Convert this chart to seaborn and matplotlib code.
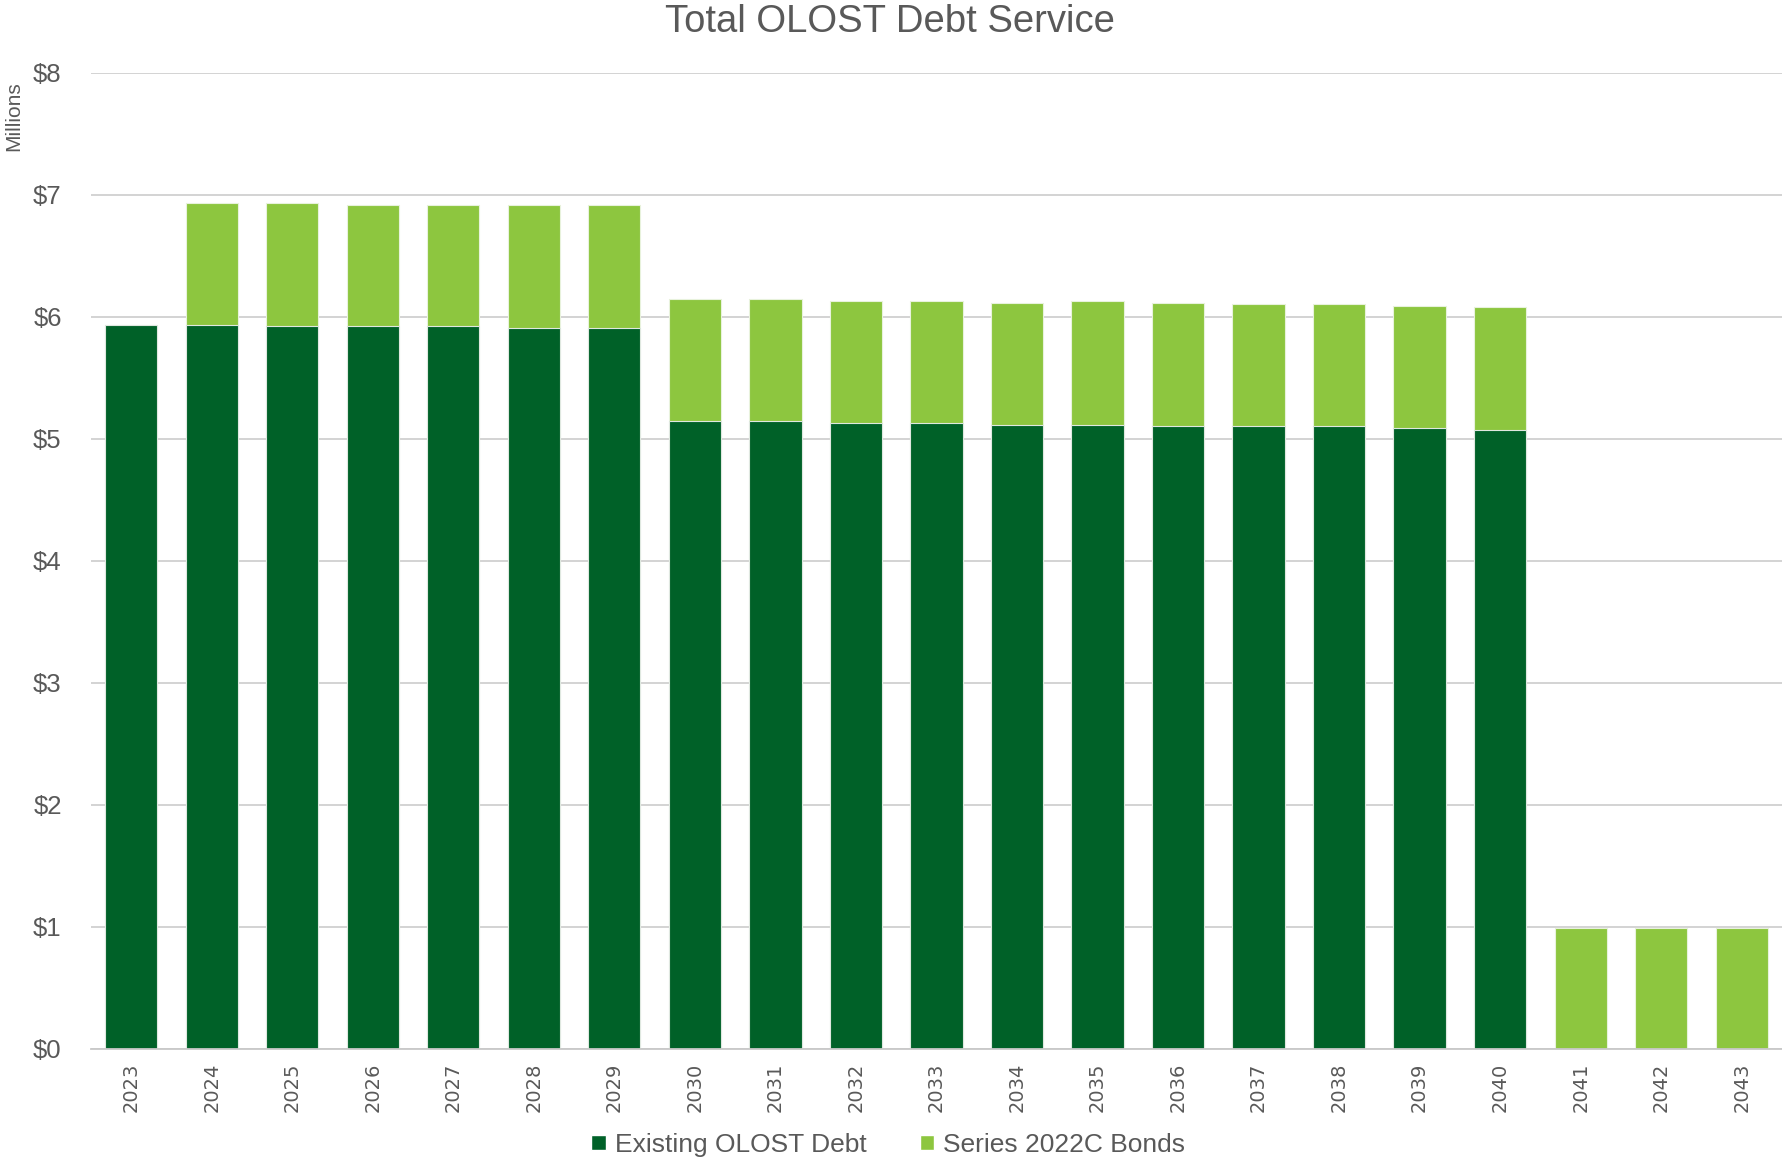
import pandas as pd
import numpy as np
import seaborn as sns
import matplotlib.pyplot as plt
from matplotlib.patches import Patch

years = [str(y) for y in range(2023, 2044)]
existing = [5.937, 5.937, 5.924, 5.924, 5.924, 5.910, 5.910,
            5.145, 5.145, 5.128, 5.128, 5.118, 5.118, 5.104, 5.104,
            5.104, 5.087, 5.076, 0.0, 0.0, 0.0]
series_2022c = [0.0, 0.995, 1.008, 0.995, 0.995, 1.009, 1.009,
                1.000, 1.000, 1.002, 1.002, 1.000, 1.012, 1.014, 1.003,
                1.003, 1.006, 1.004, 0.995, 0.995, 0.995]

dark = '#006128'
light = '#8dc63f'
grey = '#595959'

df = pd.DataFrame({'year': years, 'existing': existing, 'series': series_2022c})
df['total'] = df['existing'] + df['series']

sns.set_style('white')
plt.rcParams['font.family'] = ['Liberation Sans', 'DejaVu Sans']

fig = plt.figure(figsize=(17.82, 11.64), dpi=100)
ax = fig.add_axes([0.051, 0.0988, 0.949, 0.8385])

# stacked: total first, existing drawn over it
sns.barplot(data=df, x='year', y='total', color=light, saturation=1, width=0.65,
            edgecolor='#e8f2dc', linewidth=0.8, ax=ax)
sns.barplot(data=df, x='year', y='existing', color=dark, saturation=1, width=0.65,
            edgecolor='#dfe8e0', linewidth=0.8, ax=ax)

ax.set_ylim(0, 8)
ax.set_xlim(-0.5, len(years) - 0.5)
ax.set_yticks(range(0, 9))
ax.set_yticklabels(['$%d' % v for v in range(0, 9)], fontsize=18.5, color=grey)
ax.tick_params(axis='y', length=0, pad=21)
ax.yaxis.grid(True, color='#d0d0d0', linewidth=1.3)
ax.set_axisbelow(True)

ax.set_xticks(range(len(years)))
ax.set_xticklabels(years, rotation=90, fontsize=14, color=grey,
                   family='DejaVu Sans')
ax.set_xticks(np.arange(-0.5, len(years), 1), minor=True)
ax.tick_params(axis='x', which='major', length=0, pad=10)
ax.tick_params(axis='x', which='minor', length=6, color='#c8c8c8', width=1.2,
               direction='out')
ax.set_xlabel('')
ax.set_ylabel('')

for s in ['top', 'right', 'left']:
    ax.spines[s].set_visible(False)
ax.spines['bottom'].set_color('#c8c8c8')
ax.spines['bottom'].set_linewidth(1.3)

fig.text(0.4995, 0.981, 'Total OLOST Debt Service', ha='center', va='center',
         fontsize=27.5, color=grey)
fig.text(0.0075, 0.9, 'Millions', rotation=90, ha='center', va='center',
         fontsize=15, color=grey)

handles = [Patch(facecolor=dark, label='Existing OLOST Debt'),
           Patch(facecolor=light, label='Series 2022C Bonds')]
leg = fig.legend(handles=handles, loc='center', bbox_to_anchor=(0.4985, 0.0165),
                 ncol=2, frameon=False, handlelength=0.55, handleheight=0.55,
                 handletextpad=0.35, columnspacing=2.0, borderpad=0,
                 prop={'size': 19})
for t in leg.get_texts():
    t.set_color(grey)

fig.savefig('out.png', dpi=100)
